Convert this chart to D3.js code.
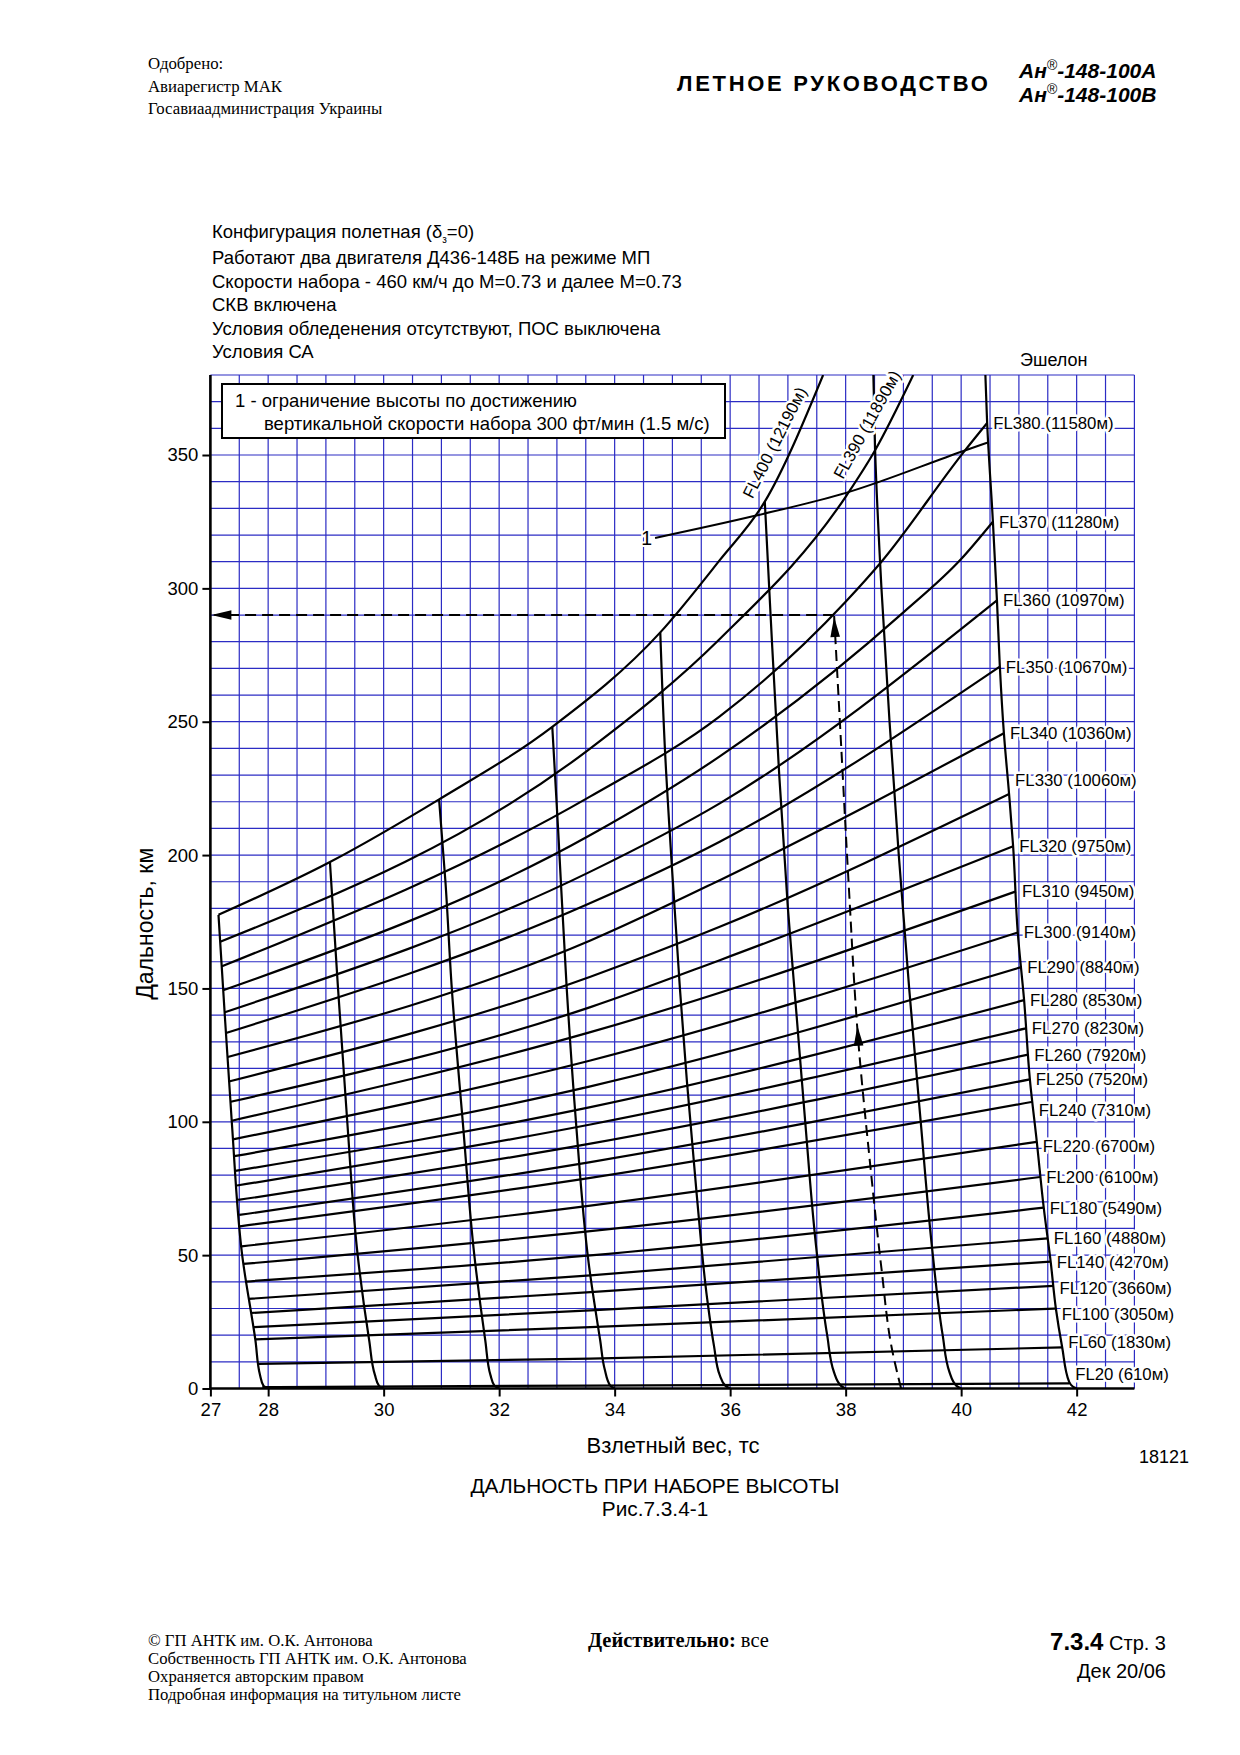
<!DOCTYPE html>
<html><head><meta charset="utf-8">
<script src="https://cdn.jsdelivr.net/npm/d3@7"></script>
<style>body{margin:0;background:#fff} svg{display:block}</style>
</head><body>
<svg id="c" width="1240" height="1755"></svg>
<script>
// ---------------- DATA ----------------
const weightTicks = [27, 28, 30, 32, 34, 36, 38, 40, 42];
const rangeTicks = [0, 50, 100, 150, 200, 250, 300, 350];
const flLevels = [400, 390, 380, 370, 360, 350, 340, 330, 320, 310, 300, 290, 280, 270, 260, 250, 240, 220, 200, 180, 160, 140, 120, 100, 60, 20];
const flMeters = [12190, 11890, 11580, 11280, 10970, 10670, 10360, 10060, 9750, 9450, 9140, 8840, 8530, 8230, 7920, 7520, 7310, 6700, 6100, 5490, 4880, 4270, 3660, 3050, 1830, 610];
// each curve: [takeoff weight (t), climb range (km)]
const flCurves = [
  [[27.14,177.6],[29.07,197.4],[30.96,220.9],[32.92,248.1],[34.79,283.5],[35.82,310.6],[36.6,332.5],[37.61,380]],
  [[27.17,167.5],[33.58,240],[35.82,281],[38.02,335],[38.51,351.8],[39.17,380]],
  [[27.2,158.3],[33.58,222],[35.82,252],[38.0,295],[38.62,310],[40.04,351],[40.45,362]],
  [[27.22,149.3],[33.58,207.5],[35.82,237],[39.0,291],[40.0,311],[40.55,325]],
  [[27.25,141.1],[33.58,193.8],[35.82,219.4],[40.62,295.5]],
  [[27.27,133.3],[33.58,182],[35.82,205],[40.67,270.7]],
  [[27.3,124.3],[33.58,168],[35.82,190.6],[40.74,245.7]],
  [[27.32,115.1],[33.58,154.4],[35.82,173.1],[40.83,222.9]],
  [[27.35,107.5],[33.58,143],[35.82,160.6],[40.9,203.3]],
  [[27.37,100.4],[33.58,133.6],[40.95,186.4]],
  [[27.39,93.4],[33.58,123],[40.98,171]],
  [[27.41,87.1],[33.58,113.3],[41.04,158]],
  [[27.43,81.6],[33.58,105.5],[41.09,145.6]],
  [[27.46,76.1],[33.58,99],[41.12,135]],
  [[27.48,70.7],[33.58,91.8],[41.16,125.2]],
  [[27.5,65.1],[33.58,84.9],[41.19,115.9]],
  [[27.51,60.8],[33.58,79],[41.24,107.5]],
  [[27.54,53.3],[33.58,68.6],[41.31,92.5]],
  [[27.57,46.7],[33.58,59],[41.37,79.3]],
  [[27.6,40.1],[33.58,49.9],[41.43,67.8]],
  [[27.66,33.6],[33.58,42.4],[41.5,56.3]],
  [[27.7,28.3],[33.58,36.1],[41.55,47.6]],
  [[27.74,23],[33.58,29.3],[41.6,38.5]],
  [[27.78,18.4],[33.58,23],[41.64,30]],
  [[27.84,9.2],[33.58,11.2],[41.75,15.4]],
  [[27.9,0.5],[33.58,1.1],[41.87,1.9]]
];
// guide lines by start weight 28..42 (first = left boundary, last = right boundary)
const guideStarts = [28, 30, 32, 34, 36, 38, 40, 42];
const guideCurves = [
  [[27.14,177.6],[27.22,150],[27.37,100],[27.55,50],[27.78,18],[27.86,5],[27.92,1],[28,0]],
  [[29.07,197.4],[29.21,150],[29.37,100],[29.55,50],[29.75,18],[29.85,5],[29.92,1],[30,0]],
  [[30.96,220.9],[31.07,190],[31.18,150],[31.37,100],[31.57,50],[31.76,18],[31.85,5],[31.92,1],[32,0]],
  [[32.92,248.1],[33.02,210],[33.17,150],[33.33,100],[33.55,47],[33.75,18],[33.83,7],[33.92,1.2],[34,0]],
  [[34.79,283.5],[34.87,240],[34.99,196],[35.13,150],[35.25,115.5],[35.42,73],[35.6,34],[35.72,16],[35.82,5],[35.92,1],[36,0]],
  [[36.6,332.5],[36.7,290],[36.85,230],[37.0,180],[37.15,140],[37.3,100],[37.48,55],[37.68,20],[37.8,6],[37.92,1],[38,0]],
  [[38.48,380],[38.51,352],[38.62,300],[38.76,250],[38.92,200],[39.1,150],[39.3,100],[39.5,52],[39.68,20],[39.8,6],[39.92,1],[40,0]],
  [[40.42,380],[40.45,362],[40.55,325],[40.62,295.5],[40.67,270.7],[40.74,245.7],[40.83,222.9],[40.9,203.3],[40.98,171],[41.09,145.6],[41.19,115.9],[41.31,92.5],[41.43,67.8],[41.55,47.6],[41.64,30],[41.75,15.4],[41.87,2.5],[41.94,0.6],[42,0]]
];
// limit line 1 (vertical speed 300 ft/min)
const limitLine = [[34.7,318.9],[36.43,327.2],[38.02,335.9],[40.04,351.5],[40.45,354.6]];
// worked example (dashed)
const exampleClimb = [[38.96,0],[38.8,15],[38.62,45],[38.42,85],[38.22,130],[38.05,190],[37.9,250],[37.8,290]];
const exampleRange = 290;
const exampleArrowAt = 136;

const headerLeft = ["Одобрено:", "Авиарегистр МАК", "Госавиаадминистрация Украины"];
const conditions = ["Работают два двигателя Д436-148Б на режиме МП", "Скорости набора - 460 км/ч до M=0.73 и далее M=0.73", "СКВ включена", "Условия обледенения отсутствуют, ПОС выключена", "Условия СА"];
const legendLines = ["1 - ограничение высоты по достижению", "вертикальной скорости набора 300 фт/мин (1.5 м/с)"];
const footerLeft = ["© ГП АНТК им. О.К. Антонова", "Собственность ГП АНТК им. О.К. Антонова", "Охраняется авторским правом", "Подробная информация на титульном листе"];

// ---------------- LAYOUT ----------------
const SANS = "'Liberation Sans', Arial, sans-serif";
const SERIF = "'Liberation Serif', 'Times New Roman', serif";
const GRID = "#2c2cc4";
const svg = d3.select("#c");
const x = d3.scaleLinear().domain([27, 43]).range([210.4, 1134.4]);
const y = d3.scaleLinear().domain([0, 380]).range([1388.5, 375]);
const labelNudge = {330: -14, 240: 8, 220: 4, 120: 2, 100: 5, 60: -5, 20: -9};

svg.append("rect").attr("width", 1240).attr("height", 1755).attr("fill", "#fff");

// header
const hl = svg.append("g").attr("font-family", SERIF).attr("font-size", 16.8).attr("fill", "#000");
headerLeft.forEach((t, i) => hl.append("text").attr("x", 148).attr("y", 69 + i * 22.5).text(t));
svg.append("text").attr("x", 677).attr("y", 91).attr("font-family", SANS).attr("font-weight", "bold")
  .attr("font-size", 22).attr("letter-spacing", 2.7).text("ЛЕТНОЕ РУКОВОДСТВО");
["Ан", "Ан"].forEach((a, i) => {
  const t = svg.append("text").attr("x", 1019).attr("y", 78 + i * 24).attr("font-family", SANS)
    .attr("font-weight", "bold").attr("font-style", "italic").attr("font-size", 21);
  t.append("tspan").text(a);
  t.append("tspan").attr("font-size", 14).attr("dy", -8).attr("font-weight", "normal").text("®");
  t.append("tspan").attr("dy", 8).text(i === 0 ? "-148-100А" : "-148-100В");
});

// conditions block
const cb = svg.append("g").attr("font-family", SANS).attr("font-size", 18.5).attr("fill", "#000");
const c0 = cb.append("text").attr("x", 212).attr("y", 238);
c0.append("tspan").text("Конфигурация полетная (δ");
c0.append("tspan").attr("font-size", 10).attr("dy", 5).text("з");
c0.append("tspan").attr("dy", -5).text("=0)");
conditions.forEach((t, i) => cb.append("text").attr("x", 212).attr("y", 264 + i * 23.6).text(t));

// grid
const plot = svg.append("g");
const gx = d3.range(27, 43.001, 0.5), gy = d3.range(0, 380.001, 10);
plot.append("g").selectAll("line").data(gx).join("line")
  .attr("x1", d => x(d)).attr("x2", d => x(d)).attr("y1", y(0)).attr("y2", y(380))
  .attr("stroke", GRID).attr("stroke-width", 1.2);
plot.append("g").selectAll("line").data(gy).join("line")
  .attr("y1", d => y(d)).attr("y2", d => y(d)).attr("x1", x(27)).attr("x2", x(43))
  .attr("stroke", GRID).attr("stroke-width", 1.2);

// axes
const xAxis = d3.axisBottom(x).tickValues(weightTicks).tickSize(8).tickSizeOuter(0).tickPadding(6);
const yAxis = d3.axisLeft(y).tickValues(rangeTicks).tickSize(8).tickSizeOuter(0).tickPadding(4);
const ax = svg.append("g").attr("transform", `translate(0,${y(0)})`).call(xAxis);
const ay = svg.append("g").attr("transform", `translate(${x(27)},0)`).call(yAxis);
[ax, ay].forEach(a => {
  a.select(".domain").attr("stroke", "#000").attr("stroke-width", 2.6);
  a.selectAll(".tick line").attr("stroke", "#000").attr("stroke-width", 2);
  a.selectAll(".tick text").attr("font-family", SANS).attr("font-size", 18.5).attr("fill", "#000");
});
ax.select(".domain").attr("d", `M${x(27)},0H${x(43)}`);
ay.select(".domain").attr("d", `M0,${y(0)}V${y(380)}`);

// clip
svg.append("clipPath").attr("id", "pc").append("rect")
  .attr("x", x(27)).attr("y", y(380)).attr("width", x(43) - x(27)).attr("height", y(0) - y(380));
const curves = svg.append("g").attr("clip-path", "url(#pc)").attr("fill", "none").attr("stroke", "#000").attr("stroke-width", 2.2);

const lineX = d3.line().x(d => x(d[0])).y(d => y(d[1])).curve(d3.curveMonotoneX);
const lineY = d3.line().x(d => x(d[0])).y(d => y(d[1])).curve(d3.curveMonotoneY);

curves.selectAll("path.fl").data(flCurves).join("path").attr("class", "fl").attr("d", lineX);
curves.selectAll("path.gd").data(guideCurves).join("path").attr("class", "gd").attr("d", lineY);
curves.append("path").attr("d", lineX(limitLine)).attr("stroke-width", 2);

// example dashed
const ex = svg.append("g").attr("fill", "none").attr("stroke", "#000").attr("stroke-width", 2).attr("stroke-dasharray", "11,6");
ex.append("path").attr("d", lineY(exampleClimb));
const exTop = exampleClimb[exampleClimb.length - 1];
ex.append("path").attr("d", `M${x(exTop[0])},${y(exampleRange)}H${x(27) + 4}`);
function arrow(px, py, dx, dy) {
  const L = Math.hypot(dx, dy), ux = dx / L, uy = dy / L, len = 20, w = 4.8;
  const bx = px - ux * len, by = py - uy * len;
  svg.append("path").attr("fill", "#000")
    .attr("d", `M${px},${py}L${bx - uy * w},${by + ux * w}L${bx + uy * w},${by - ux * w}Z`);
}
{
  const k = exampleClimb.findIndex(p => p[1] >= exampleArrowAt);
  const a = exampleClimb[k - 1], b = exampleClimb[k];
  const t = (exampleArrowAt - a[1]) / (b[1] - a[1]);
  const wx = a[0] + t * (b[0] - a[0]);
  arrow(x(wx), y(exampleArrowAt), x(b[0]) - x(a[0]), y(b[1]) - y(a[1]));
  const p = exampleClimb[exampleClimb.length - 2];
  arrow(x(exTop[0]), y(exTop[1]) + 2, x(exTop[0]) - x(p[0]), y(exTop[1]) - y(p[1]));
  arrow(x(27) + 1, y(exampleRange), -1, 0);
}

// FL labels
const lab = svg.append("g").attr("font-family", SANS).attr("font-size", 16.8).attr("fill", "#000")
  .attr("stroke", "#fff").attr("stroke-width", 5).attr("paint-order", "stroke").attr("stroke-linejoin", "round");
flLevels.forEach((lv, i) => {
  if (lv >= 390) return;
  const e = flCurves[i][flCurves[i].length - 1];
  lab.append("text").attr("x", x(e[0]) + 6).attr("y", y(e[1]) + (labelNudge[lv] || 0)).attr("dy", "0.36em")
    .text(`FL${lv} (${flMeters[i]}м)`);
});
// rotated labels on FL400 / FL390
[[0, 352, 2, 10], [1, 358, 2, 13]].forEach(([i, at, seg, off]) => {
  const pts = flCurves[i];
  let k = pts.findIndex(p => p[1] >= at);
  const p0 = pts[k - 1], p1 = pts[k];
  const t = (at - p0[1]) / (p1[1] - p0[1]);
  const wx = p0[0] + t * (p1[0] - p0[0]);
  const ang = Math.atan2(y(p1[1]) - y(p0[1]), x(p1[0]) - x(p0[0])) * 180 / Math.PI + seg;
  lab.append("text").attr("transform", `translate(${x(wx)},${y(at)}) rotate(${ang})`)
    .attr("text-anchor", "middle").attr("y", -off).text(`FL${flLevels[i]} (${flMeters[i]}м)`);
});

// limit label
svg.append("text").attr("x", x(limitLine[0][0]) - 3).attr("y", y(limitLine[0][1]) + 7).attr("text-anchor", "end")
  .attr("font-family", SANS).attr("font-size", 19.5).attr("stroke", "#fff").attr("stroke-width", 4)
  .attr("paint-order", "stroke").text("1");

// legend box
svg.append("rect").attr("x", 222).attr("y", 384).attr("width", 503).attr("height", 54)
  .attr("fill", "#fff").attr("stroke", "#000").attr("stroke-width", 2);
svg.append("text").attr("x", 235).attr("y", 407).attr("font-family", SANS).attr("font-size", 18.5).text(legendLines[0]);
svg.append("text").attr("x", 264).attr("y", 430).attr("font-family", SANS).attr("font-size", 18.5).text(legendLines[1]);

// titles
svg.append("text").attr("x", 1020).attr("y", 366).attr("font-family", SANS).attr("font-size", 18).text("Эшелон");
svg.append("text").attr("transform", `translate(153,${(y(0) + y(380)) / 2 + 42}) rotate(-90)`).attr("text-anchor", "middle")
  .attr("font-family", SANS).attr("font-size", 23).text("Дальность, км");
svg.append("text").attr("x", 673).attr("y", 1453).attr("text-anchor", "middle").attr("font-family", SANS).attr("font-size", 22).text("Взлетный вес, тс");
svg.append("text").attr("x", 1189).attr("y", 1463).attr("text-anchor", "end").attr("font-family", SANS).attr("font-size", 18).text("18121");
svg.append("text").attr("x", 655).attr("y", 1493).attr("text-anchor", "middle").attr("font-family", SANS).attr("font-size", 20.8).text("ДАЛЬНОСТЬ ПРИ НАБОРЕ ВЫСОТЫ");
svg.append("text").attr("x", 655).attr("y", 1516).attr("text-anchor", "middle").attr("font-family", SANS).attr("font-size", 20.8).text("Рис.7.3.4-1");

// footer
const footG = svg.append("g").attr("font-family", SERIF).attr("font-size", 16.7).attr("fill", "#000");
footerLeft.forEach((t, i) => footG.append("text").attr("x", 148).attr("y", 1646 + i * 18).text(t));
const dv = svg.append("text").attr("x", 588).attr("y", 1647).attr("font-family", SERIF).attr("font-size", 20.5);
dv.append("tspan").attr("font-weight", "bold").text("Действительно:");
dv.append("tspan").text(" все");
const pg = svg.append("text").attr("x", 1166).attr("y", 1650).attr("text-anchor", "end").attr("font-family", SANS);
pg.append("tspan").attr("font-weight", "bold").attr("font-size", 24).text("7.3.4");
pg.append("tspan").attr("font-size", 20).text("   Стр. 3");
svg.append("text").attr("x", 1166).attr("y", 1678).attr("text-anchor", "end").attr("font-family", SANS).attr("font-size", 20).text("Дек 20/06");
</script>
</body></html>
